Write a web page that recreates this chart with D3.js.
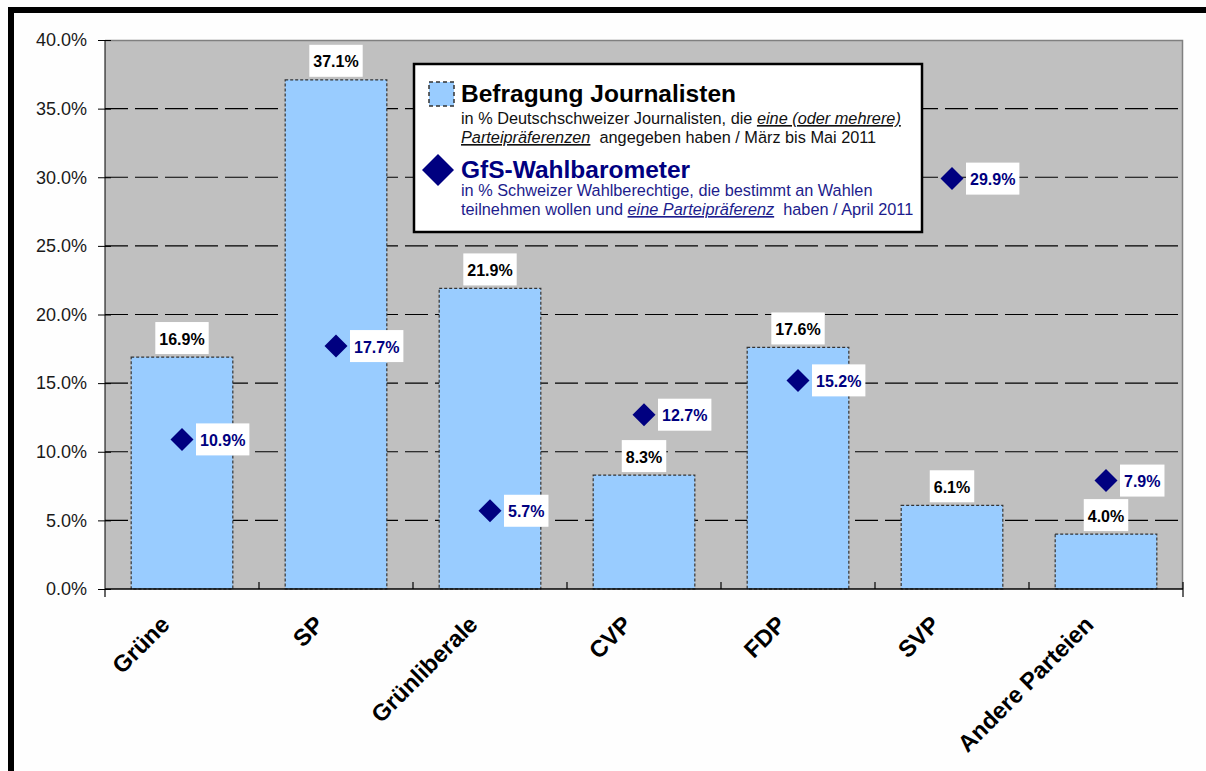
<!DOCTYPE html>
<html><head><meta charset="utf-8">
<script src="https://cdn.jsdelivr.net/npm/d3@7"></script>
<style>body{margin:0;background:#fff;} svg{display:block;font-family:Arial,"Liberation Sans",sans-serif;}</style>
</head><body>
<script>
const categories = ["Grüne","SP","Grünliberale","CVP","FDP","SVP","Andere Parteien"];
const journalisten = [16.9,37.1,21.9,8.3,17.6,6.1,4.0];
const wahlbarometer = [10.9,17.7,5.7,12.7,15.2,29.9,7.9];
const yTicks = [0,5,10,15,20,25,30,35,40];

const W=1206,H=771;
const svg=d3.select("body").append("svg").attr("width",W).attr("height",H);
svg.append("rect").attr("width",W).attr("height",H).attr("fill","#fefefe");
// frame
svg.append("rect").attr("x",8).attr("y",7).attr("width",W-8).attr("height",6).attr("fill","#000");
svg.append("rect").attr("x",8).attr("y",7).attr("width",6).attr("height",H-7).attr("fill","#000");

const L=105,R=1183,T=40,B=589;
const x=d3.scaleBand().domain(categories).range([L,R]).paddingInner(0).paddingOuter(0);
const y=d3.scaleLinear().domain([0,40]).range([B,T]);
const bw=x.bandwidth()*0.66;

svg.append("rect").attr("x",L).attr("y",T).attr("width",R-L).attr("height",B-T).attr("fill","#c0c0c0");
// gridlines
svg.append("g").selectAll("line").data(yTicks.filter(d=>d>0&&d<40)).join("line")
  .attr("x1",L).attr("x2",R).attr("y1",d=>y(d)).attr("y2",d=>y(d))
  .attr("stroke","#000").attr("stroke-width",1.2).attr("stroke-dasharray","23,7");
// plot border top/right
svg.append("path").attr("d",`M${L},${T+0.5}H${R-0.5}V${B}`).attr("fill","none").attr("stroke","#808080").attr("stroke-width",1.5);

// bars
svg.append("g").selectAll("rect").data(categories).join("rect")
  .attr("x",(d)=>x(d)+(x.bandwidth()-bw)/2).attr("width",bw)
  .attr("y",(d,i)=>y(journalisten[i])).attr("height",(d,i)=>B-y(journalisten[i]))
  .attr("fill","#99ccff").attr("stroke","#333").attr("stroke-width",1.2).attr("stroke-dasharray","3,2");

// y axis
const yAxis=d3.axisLeft(y).tickValues(yTicks).tickFormat(d=>d.toFixed(1)+"%").tickSize(7).tickPadding(11);
const ya=svg.append("g").attr("transform",`translate(${L},0)`).call(yAxis);
ya.select(".domain").attr("stroke","#000").attr("d",`M0,${T}V${B}`);
ya.selectAll(".tick line").attr("x1",-7).attr("x2",6).attr("stroke","#000");
ya.selectAll(".tick text").attr("font-size",18).attr("fill","#1a1a1a").attr("font-family","Arial,'Liberation Sans',sans-serif");

// x axis
const xa=svg.append("g");
xa.append("line").attr("x1",L).attr("x2",R).attr("y1",B).attr("y2",B).attr("stroke","#000").attr("stroke-width",1.3);
const bounds=categories.map(c=>x(c)).concat([R]);
xa.selectAll("line.t").data(bounds).join("line").attr("class","t")
  .attr("x1",d=>d).attr("x2",d=>d)
  .attr("y1",(d,i)=>i===0?B:B-7).attr("y2",(d,i)=>(i===0||i===bounds.length-1)?B+8:B)
  .attr("stroke","#000").attr("stroke-width",1.2);
xa.selectAll("text").data(categories).join("text")
  .attr("transform",d=>`translate(${x(d)+x.bandwidth()/2-11},${B+37}) rotate(-45)`)
  .attr("text-anchor","end").attr("font-size",23.5).attr("font-weight","bold").attr("fill","#000")
  .text(d=>d);

// label helper
function labelBox(g,txt,cx,cy,anchor,color){
  const t=g.append("text").attr("font-size",16).attr("font-weight","bold").attr("fill",color)
    .attr("dominant-baseline","central").attr("text-anchor","middle").text(txt);
  const w=t.node().getComputedTextLength()+8, h=32;
  let bx = anchor==="left"? cx : cx-w/2;
  g.insert("rect","text").attr("x",bx).attr("y",cy-h/2).attr("width",w).attr("height",h).attr("fill","#fff");
  t.attr("x",bx+w/2).attr("y",cy+1);
}
// bar labels
categories.forEach((c,i)=>{
  const g=svg.append("g");
  labelBox(g,journalisten[i].toFixed(1)+"%",x(c)+x.bandwidth()/2,y(journalisten[i])-19,"center","#000");
});
// diamonds
categories.forEach((c,i)=>{
  const cx=x(c)+x.bandwidth()/2, cy=y(wahlbarometer[i]);
  svg.append("path").attr("d",`M${cx},${cy-11.5}L${cx+11.5},${cy}L${cx},${cy+11.5}L${cx-11.5},${cy}Z`).attr("fill","#000080");
  const g=svg.append("g");
  labelBox(g,wahlbarometer[i].toFixed(1)+"%",cx+14,cy,"left","#000080");
});

// legend
const lg=svg.append("g");
const fs=16.3;
lg.append("rect").attr("x",414).attr("y",64).attr("width",508).attr("height",168).attr("fill","#fff").attr("stroke","#000").attr("stroke-width",2.5);
lg.append("rect").attr("x",429).attr("y",82).attr("width",25).attr("height",24).attr("fill","#99ccff").attr("stroke","#333").attr("stroke-width",1.5).attr("stroke-dasharray","4,3");
lg.append("text").attr("x",461).attr("y",102).attr("font-size",24.5).attr("font-weight","bold").attr("fill","#000").text("Befragung Journalisten");
const l1=lg.append("text").attr("x",461).attr("y",124).attr("font-size",fs).attr("fill","#111");
l1.append("tspan").text("in % Deutschschweizer Journalisten, die ");
l1.append("tspan").attr("font-style","italic").attr("text-decoration","underline").text("eine (oder mehrere)");
const l2=lg.append("text").attr("x",461).attr("y",143).attr("font-size",fs).attr("fill","#111");
l2.append("tspan").attr("font-style","italic").attr("text-decoration","underline").text("Parteipräferenzen");
l2.append("tspan").text("\u00a0 angegeben haben / März bis Mai 2011");
lg.append("path").attr("d","M438,154L454,170L438,186L422,170Z").attr("fill","#000080");
lg.append("text").attr("x",461).attr("y",178).attr("font-size",24.5).attr("font-weight","bold").attr("fill","#000080").text("GfS-Wahlbarometer");
const l3=lg.append("text").attr("x",461).attr("y",196).attr("font-size",fs).attr("fill","#1c1c8c");
l3.text("in % Schweizer Wahlberechtige, die bestimmt an Wahlen");
const l4=lg.append("text").attr("x",461).attr("y",215).attr("font-size",fs).attr("fill","#1c1c8c");
l4.append("tspan").text("teilnehmen wollen und ");
l4.append("tspan").attr("font-style","italic").attr("text-decoration","underline").text("eine Parteipräferenz");
l4.append("tspan").text("\u00a0 haben / April 2011");
</script>
</body></html>
